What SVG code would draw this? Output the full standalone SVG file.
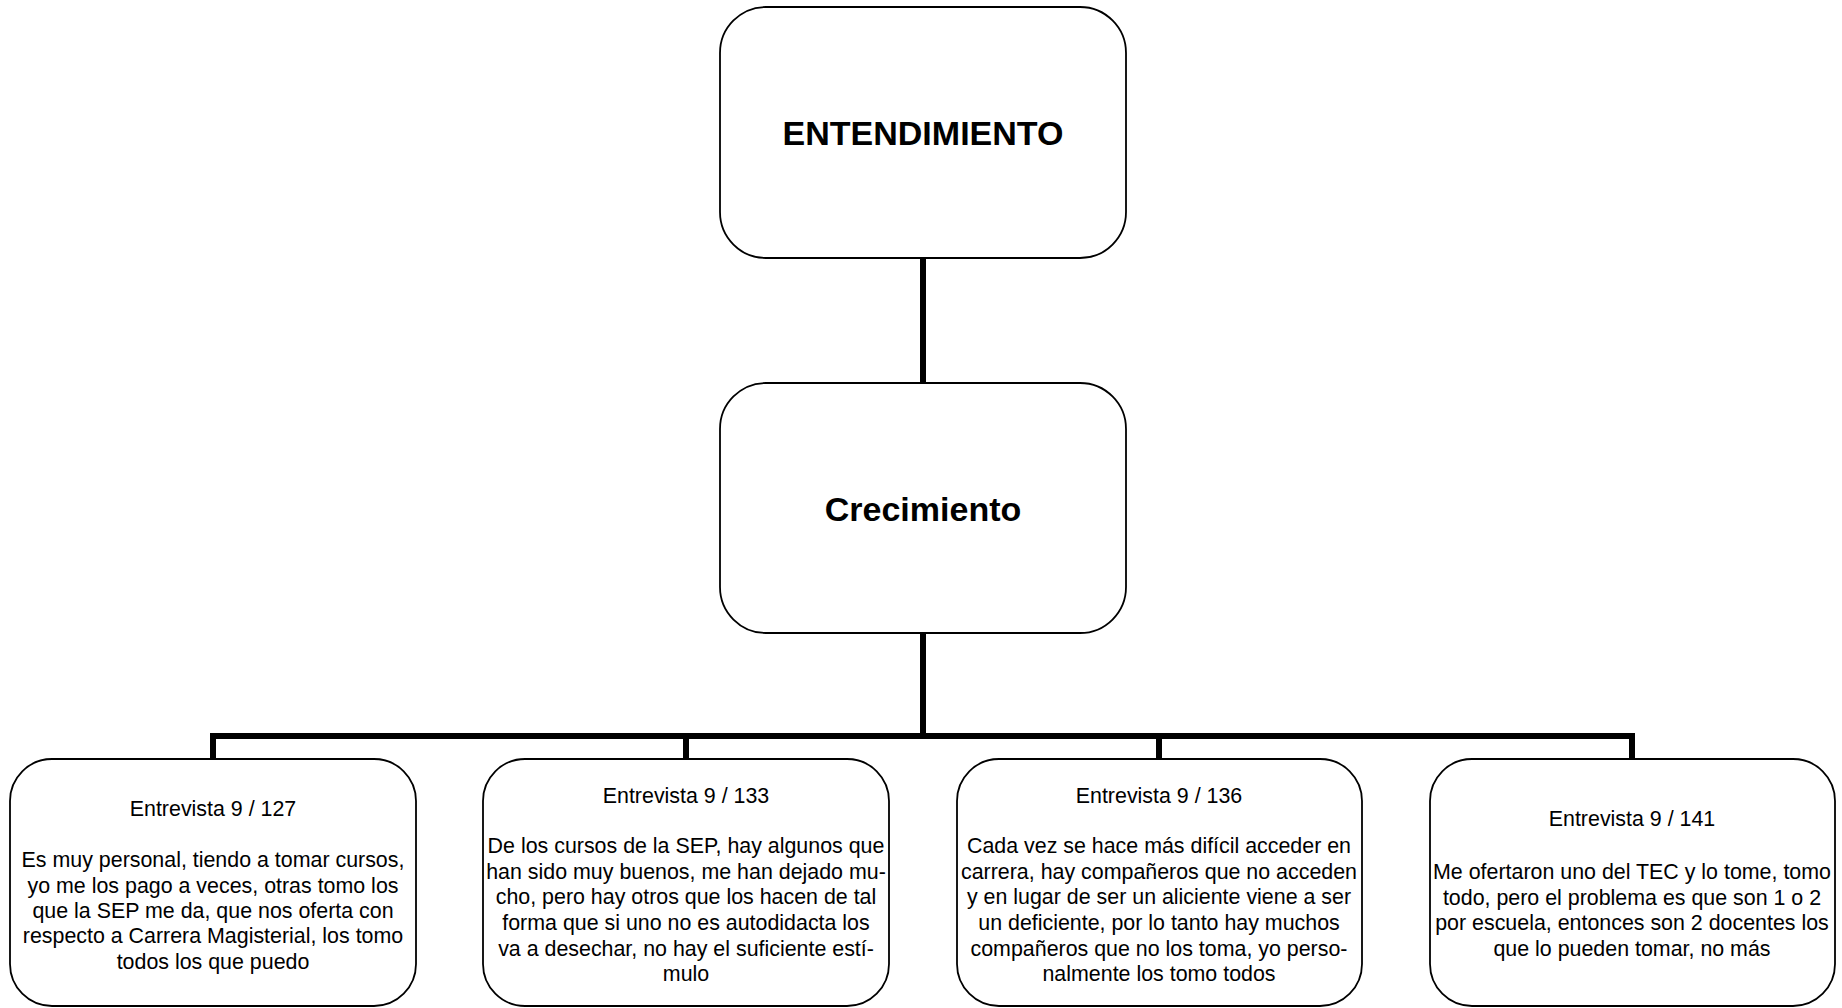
<svg xmlns="http://www.w3.org/2000/svg" width="1842" height="1008" viewBox="0 0 1842 1008">
<style>
.box{fill:#fff;stroke:#000;stroke-width:1.8}
.conn{fill:none;stroke:#000;stroke-width:6;stroke-linejoin:miter}
.title{font-family:"Liberation Sans",Arial,sans-serif;font-size:34px;font-weight:bold;text-anchor:middle;fill:#000}
.body{font-family:"Liberation Sans",Arial,sans-serif;font-size:21.4px;text-anchor:middle;fill:#000}
</style>
<rect width="1842" height="1008" fill="#fff"/>
<g id="connectors">
<path class="conn" d="M923 258 V383"/>
<path class="conn" d="M923 633 V736"/>
<path class="conn" d="M213 759 V736 H1632 V759"/>
<path class="conn" d="M686 736 V759"/>
<path class="conn" d="M1159 736 V759"/>
</g>
<g id="node-entendimiento">
<rect class="box" x="720" y="7" width="406" height="251" rx="46" ry="46"/>
<text class="title" x="923" y="145">ENTENDIMIENTO</text>
</g>
<g id="node-crecimiento">
<rect class="box" x="720" y="383" width="406" height="250" rx="46" ry="46"/>
<text class="title" x="923" y="521">Crecimiento</text>
</g>
<g id="node-127">
<rect class="box" x="10" y="759" width="406" height="247" rx="42" ry="42"/>
<text class="body" x="213"><tspan x="213" y="816">Entrevista 9 / 127</tspan><tspan x="213" y="867">Es muy personal, tiendo a tomar cursos,</tspan><tspan x="213" y="893">yo me los pago a veces, otras tomo los</tspan><tspan x="213" y="918">que la SEP me da, que nos oferta con</tspan><tspan x="213" y="943">respecto a Carrera Magisterial, los tomo</tspan><tspan x="213" y="969">todos los que puedo</tspan></text>
</g>
<g id="node-133">
<rect class="box" x="483" y="759" width="406" height="247" rx="42" ry="42"/>
<text class="body" x="686"><tspan x="686" y="803">Entrevista 9 / 133</tspan><tspan x="686" y="853">De los cursos de la SEP, hay algunos que</tspan><tspan x="686" y="879">han sido muy buenos, me han dejado mu-</tspan><tspan x="686" y="904">cho, pero hay otros que los hacen de tal</tspan><tspan x="686" y="930">forma que si uno no es autodidacta los</tspan><tspan x="686" y="956">va a desechar, no hay el suficiente estí-</tspan><tspan x="686" y="981">mulo</tspan></text>
</g>
<g id="node-136">
<rect class="box" x="957" y="759" width="405" height="247" rx="42" ry="42"/>
<text class="body" x="1159"><tspan x="1159" y="803">Entrevista 9 / 136</tspan><tspan x="1159" y="853">Cada vez se hace más difícil acceder en</tspan><tspan x="1159" y="879">carrera, hay compañeros que no acceden</tspan><tspan x="1159" y="904">y en lugar de ser un aliciente viene a ser</tspan><tspan x="1159" y="930">un deficiente, por lo tanto hay muchos</tspan><tspan x="1159" y="956">compañeros que no los toma, yo perso-</tspan><tspan x="1159" y="981">nalmente los tomo todos</tspan></text>
</g>
<g id="node-141">
<rect class="box" x="1430" y="759" width="405" height="247" rx="42" ry="42"/>
<text class="body" x="1632"><tspan x="1632" y="826">Entrevista 9 / 141</tspan><tspan x="1632" y="879">Me ofertaron uno del TEC y lo tome, tomo</tspan><tspan x="1632" y="905">todo, pero el problema es que son 1 o 2</tspan><tspan x="1632" y="930">por escuela, entonces son 2 docentes los</tspan><tspan x="1632" y="956">que lo pueden tomar, no más</tspan></text>
</g>
</svg>
